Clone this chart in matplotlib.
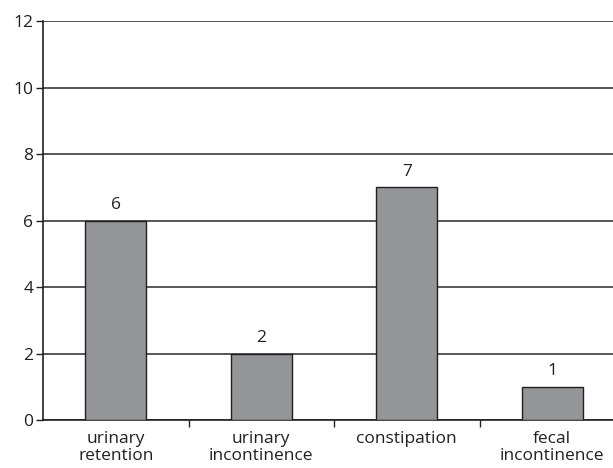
import matplotlib.pyplot as plt

# Bowel and bladder dysfunction counts
categories = ['urinary\nretention', 'urinary\nincontinence', 'constipation', 'fecal\nincontinence']
counts = [6, 2, 7, 1]
yticks = [0, 2, 4, 6, 8, 10, 12]

plt.rcParams['font.family'] = ['Open Sans', 'DejaVu Sans']
INK = '#231f20'
FS = 12.5

fig = plt.figure(figsize=(6.13, 4.68), dpi=100)
# axes runs a little past the right edge of the canvas
ax = fig.add_axes([43/613, 48/468, 582/613, 399/468])

x = list(range(len(categories)))
ax.bar(x, counts, width=0.42, color='#939598', edgecolor=INK, linewidth=1.0, zorder=3)
for xi, c in zip(x, counts):
    ax.text(xi, c + 0.22, str(c), ha='center', va='bottom', fontsize=FS, color=INK)

ax.set_xlim(-0.5, len(categories) - 0.5)
ax.set_ylim(0, 12)
ax.set_yticks(yticks)
ax.yaxis.grid(True, color='#3a3a3a', linewidth=1.2, zorder=0)
ax.tick_params(axis='y', length=5, width=1.0, color=INK, labelsize=FS, labelcolor=INK, pad=2)

# category labels centred, tick marks between categories
ax.set_xticks(x)
ax.set_xticklabels(categories, fontsize=FS, color=INK, linespacing=1.1)
ax.tick_params(axis='x', which='major', length=0, pad=8)
ax.set_xticks([i + 0.5 for i in x[:-1]], minor=True)
ax.tick_params(axis='x', which='minor', length=5, width=1.0, color=INK)

for side in ['top', 'right']:
    ax.spines[side].set_visible(False)
ax.spines['left'].set_color(INK)
ax.spines['left'].set_linewidth(1.2)
ax.spines['bottom'].set_color(INK)
ax.spines['bottom'].set_linewidth(1.2)

fig.savefig('out.png', dpi=100)
